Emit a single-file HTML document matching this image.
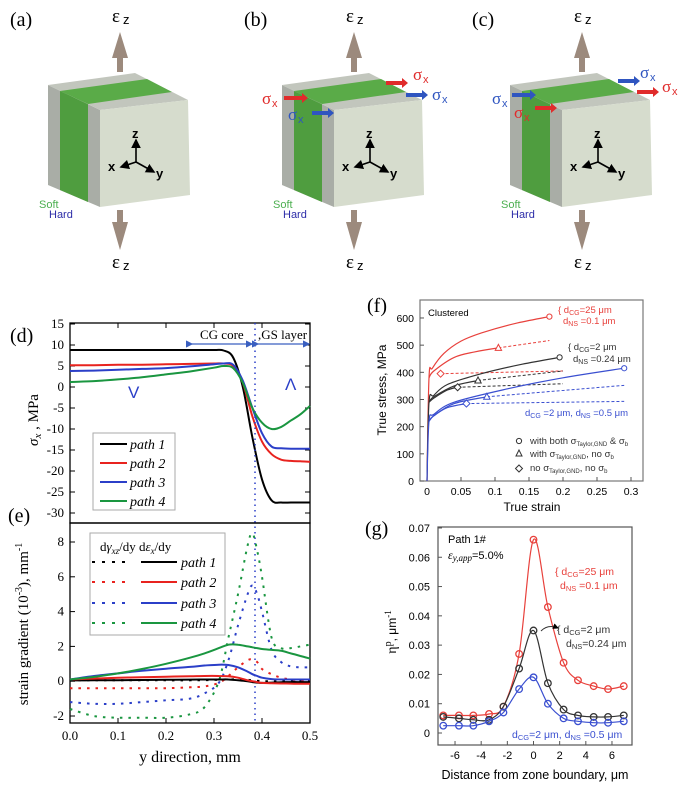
<!DOCTYPE html>
<html><head><meta charset="utf-8"><style>
html,body{margin:0;padding:0;background:#fff;}
svg{display:block;}
.serif{font-family:"Liberation Serif",serif;}
.sans{font-family:"Liberation Sans",sans-serif;}
</style></head><body>
<svg id="fig" width="684" height="785" viewBox="0 0 684 785" xmlns="http://www.w3.org/2000/svg">
<defs>
<marker id="ah" markerWidth="6" markerHeight="6" refX="5" refY="3" orient="auto"><path d="M0,0 L6,3 L0,6 z" fill="#000"/></marker>
<marker id="bh" markerWidth="6" markerHeight="6" refX="5" refY="3" orient="auto"><path d="M0,0 L6,3 L0,6 z" fill="#3a5fc0"/></marker>
</defs>
<g id="cubes"></g>
<g id="pd"></g>
<g id="pe"></g>
<g id="pf"></g>
<g id="pg"></g>
</svg>
<script>
// ---------- data: panel d ----------
const dX = [0,0.05,0.1,0.15,0.2,0.25,0.3,0.32,0.34,0.36,0.38,0.4,0.42,0.44,0.46,0.48,0.5];
const dPath1 = [8.8,8.8,8.8,8.8,8.8,8.8,8.8,8.7,7,0,-12,-22,-27,-27.5,-27.5,-27.5,-27.5];
const dPath2 = [5.2,5.2,5.3,5.3,5.4,5.5,5.6,5.6,5,1,-7,-13,-16,-17.3,-17.6,-17.7,-17.8];
const dPath3 = [3.8,3.9,4.1,4.3,4.5,4.9,5.4,5.6,5.3,1.5,-5,-11,-14.2,-14.6,-14.7,-14.7,-14.7];
const dPath4 = [1.2,1.4,1.8,2.3,3,3.7,4.6,5,4.5,1,-5,-8.5,-10,-9.5,-8,-6.5,-4.5];
const dYTicks = [15,10,5,0,-5,-10,-15,-20,-25,-30];
// ---------- data: panel e ----------
const eX = [0,0.05,0.1,0.15,0.2,0.25,0.28,0.31,0.33,0.35,0.37,0.38,0.39,0.4,0.42,0.44,0.46,0.48,0.5];
const eSolid1 = [0.05,0.05,0.06,0.07,0.08,0.09,0.1,0.1,0.1,0.05,0,-0.05,-0.08,-0.1,-0.08,-0.06,-0.05,-0.05,-0.05];
const eSolid2 = [0.1,0.15,0.2,0.23,0.26,0.28,0.3,0.3,0.28,0.2,0.05,0,-0.05,-0.1,-0.12,-0.13,-0.14,-0.15,-0.15];
const eSolid3 = [0.1,0.3,0.45,0.6,0.72,0.82,0.9,0.95,0.93,0.8,0.55,0.4,0.3,0.2,0.12,0.1,0.1,0.1,0.1];
const eSolid4 = [0.1,0.25,0.45,0.7,1.0,1.35,1.6,1.9,2.1,2.1,2.0,1.95,1.9,1.85,1.8,1.75,1.6,1.45,1.3];
const eDash1 = [0.05,0.05,0.05,0.05,0.05,0.05,0.06,0.08,0.1,0.1,0.08,0.05,0.03,0,0,0,0,0,0];
const eDash2 = [-0.4,-0.4,-0.4,-0.4,-0.4,-0.35,-0.3,-0.1,0.3,0.8,1.2,1.25,1.1,0.7,0.4,0.2,0.1,0.05,0];
const eDash3 = [-1.2,-1.3,-1.3,-1.2,-1.1,-1.0,-0.7,-0.1,1.2,3.2,5,5.5,5,4,1.8,1.1,0.85,0.8,0.8];
const eDash4 = [-1.6,-2.0,-2.1,-2.1,-2.1,-1.9,-1.5,0,2.5,5,7.8,8.5,7.5,6,2.5,1.9,1.9,2.0,2.1];
const eYTicks = [8,6,4,2,0,-2];
const xTicksDE = [0,0.1,0.2,0.3,0.4,0.5];
// ---------- data: panel f ----------
const fRedX = [0,0.003,0.008,0.025,0.05,0.08,0.13,0.18];
const fRedY = [0,380,415,470,515,545,580,605];
const fRedTriX = [0.003,0.01,0.04,0.07,0.105];
const fRedTriY = [380,405,455,475,490];
const fBlkX = [0,0.003,0.01,0.03,0.08,0.14,0.195];
const fBlkY = [0,290,315,355,395,430,455];
const fBlkTriX = [0.003,0.01,0.04,0.075];
const fBlkTriY = [290,310,350,370];
const fBlkDiaX = [0.003,0.01,0.03,0.045];
const fBlkDiaY = [290,305,335,345];
const fBluX = [0,0.003,0.01,0.04,0.12,0.2,0.29];
const fBluY = [0,220,245,290,340,380,415];
const fBluTriX = [0.003,0.01,0.04,0.088];
const fBluTriY = [220,240,285,310];
const fBluDiaX = [0.003,0.01,0.03,0.058];
const fBluDiaY = [220,240,270,285];
const fDashes = [ // [x0,y0,x1,y1,color]
 [0.105,490,0.18,517,'#e8413c'],[0.02,395,0.2,405,'#e8413c'],
 [0.075,370,0.2,405,'#333'],[0.045,345,0.2,358,'#333'],
 [0.088,310,0.29,352,'#3a4fd0'],[0.058,285,0.29,293,'#3a4fd0']];
const fYTicks = [0,100,200,300,400,500,600];
const fXTicks = [0,0.05,0.1,0.15,0.2,0.25,0.3];
const fXLabels = ['0','0.05','0.1','0.15','0.2','0.25','0.3'];
// ---------- data: panel g ----------
const gX = [-6.9,-5.7,-4.6,-3.4,-2.3,-1.1,0,1.1,2.3,3.4,4.6,5.7,6.9];
const gRed = [0.006,0.006,0.006,0.0065,0.009,0.027,0.066,0.043,0.024,0.018,0.016,0.015,0.016];
const gBlk = [0.0055,0.005,0.0045,0.0045,0.009,0.022,0.035,0.017,0.008,0.006,0.0055,0.0055,0.006];
const gBlu = [0.0025,0.0025,0.0025,0.004,0.007,0.015,0.019,0.010,0.005,0.004,0.0035,0.0035,0.004];
const gYTicks = [0,0.01,0.02,0.03,0.04,0.05,0.06,0.07];
const gXTicks = [-6,-4,-2,0,2,4,6];

const NS='http://www.w3.org/2000/svg';
function mk(parent, tag, name, attrs){
  const el=document.createElementNS(NS,tag);
  
  
  for(const k in attrs) el.setAttribute(k,attrs[k]);
  parent.appendChild(el); return el;
}
function txt(parent,name,x,y,s,attrs){const t=mk(parent,'text',name,Object.assign({x:x,y:y},attrs||{}));t.textContent=s;return t;}
function smooth(pts){
  let d='M'+pts[0][0].toFixed(1)+','+pts[0][1].toFixed(1);
  for(let i=0;i<pts.length-1;i++){
    const p0=pts[i-1]||pts[i],p1=pts[i],p2=pts[i+1],p3=pts[i+2]||p2;
    const c1=[p1[0]+(p2[0]-p0[0])/6,p1[1]+(p2[1]-p0[1])/6];
    const c2=[p2[0]-(p3[0]-p1[0])/6,p2[1]-(p3[1]-p1[1])/6];
    d+=' C'+c1[0].toFixed(1)+','+c1[1].toFixed(1)+' '+c2[0].toFixed(1)+','+c2[1].toFixed(1)+' '+p2[0].toFixed(1)+','+p2[1].toFixed(1);
  }
  return d;
}
const $=id=>document.getElementById(id);

// ---------- cubes ----------
(function(){
  const g=$('cubes');
  const offs=[0,234,462], labels=['(a)','(b)','(c)'];
  offs.forEach((o,i)=>{
    const c=mk(g,'g','cube-'+labels[i][1],{transform:'translate('+o+',0)'});
    txt(c,'panel-label',10,26,labels[i],{'class':'serif','font-size':20});
    mk(c,'polygon','cube-left-face',{points:'48,85 100,110 100,207 48,185',fill:'#a9ada6'});
    mk(c,'polygon','green-stripe-side',{points:'60,91 88,104 88,202 60,190',fill:'#4f9d3f'});
    mk(c,'polygon','cube-top-face',{points:'48,85 135,73 188,100 100,110',fill:'#c2c6bd'});
    mk(c,'polygon','green-stripe-top',{points:'60,91 147,79 172,92 88,104',fill:'#5aab48'});
    mk(c,'polygon','cube-front-face',{points:'100,110 188,100 190,195 100,207',fill:'#d6dccd'});
    // ez arrows
    mk(c,'polygon','strain-arrow-up',{points:'117,72 117,58 112,58 120,32 128,58 123,58 123,72',fill:'#9c8a7d'});
    mk(c,'polygon','strain-arrow-down',{points:'117,210 123,210 123,222 128,222 120,250 112,222 117,222',fill:'#9c8a7d'});
    txt(c,'epsilon-z-top',112,22,'ε',{'class':'serif','font-size':19});
    txt(c,'epsilon-z-top-sub',123,24,'z',{'class':'sans','font-size':13});
    txt(c,'epsilon-z-bottom',112,268,'ε',{'class':'serif','font-size':19});
    txt(c,'epsilon-z-bottom-sub',123,270,'z',{'class':'sans','font-size':13});
    // axes triad
    mk(c,'line','z-axis',{x1:136,y1:162,x2:136,y2:140,stroke:'#000','stroke-width':1.6,'marker-end':'url(#ah)'});
    mk(c,'line','x-axis',{x1:136,y1:162,x2:121,y2:167,stroke:'#000','stroke-width':1.6,'marker-end':'url(#ah)'});
    mk(c,'line','y-axis',{x1:136,y1:162,x2:154,y2:172,stroke:'#000','stroke-width':1.6,'marker-end':'url(#ah)'});
    txt(c,'z-label',132,138,'z',{'class':'sans','font-size':13,'font-weight':'bold'});
    txt(c,'x-label',108,171,'x',{'class':'sans','font-size':13,'font-weight':'bold'});
    txt(c,'y-label',156,178,'y',{'class':'sans','font-size':13,'font-weight':'bold'});
    txt(c,'soft-label',39,208,'Soft',{'class':'sans','font-size':11,fill:'#4caf50'});
    txt(c,'hard-label',49,218,'Hard',{'class':'sans','font-size':11,fill:'#2c2ca8'});
  });
  const sig=(x,y,w,col,lx,ly,name)=>{
    mk(g,'polygon',name+'-arrow',{points:(x)+','+(y-2)+' '+(x+w-6)+','+(y-2)+' '+(x+w-6)+','+(y-5)+' '+(x+w)+','+y+' '+(x+w-6)+','+(y+5)+' '+(x+w-6)+','+(y+2)+' '+x+','+(y+2),fill:col});
    txt(g,name+'-label',lx,ly,'σ',{'class':'serif','font-size':17,fill:col});
    txt(g,name+'-sub',lx+10,ly+3,'x',{'class':'sans','font-size':11,fill:col});
  };
  sig(284,98,24,'#e02b2b',262,104,'sigma-b-left-red');
  sig(312,113,22,'#2f55c0',288,120,'sigma-b-left-blue');
  sig(386,83,22,'#e02b2b',413,80,'sigma-b-right-red');
  sig(406,95,22,'#2f55c0',432,100,'sigma-b-right-blue');
  sig(512,95,24,'#2f55c0',492,104,'sigma-c-left-blue');
  sig(535,108,22,'#e02b2b',514,118,'sigma-c-left-red');
  sig(618,81,22,'#2f55c0',640,78,'sigma-c-right-blue');
  sig(637,92,22,'#e02b2b',662,92,'sigma-c-right-red');
})();

// ---------- panel d & e ----------
const X=v=>70+v*480;
const Yd=v=>324+(15-v)*4.2;
const Ye=v=>542+(8-v)*17.4;
const cols=['#000','#e8231f','#2b3fc8','#1a9640'];
(function(){
  const g=$('pd');
  txt(g,'panel-label',10,342,'(d)',{'class':'serif','font-size':20});
  mk(g,'rect','plot-frame',{x:70,y:323,width:240,height:200,fill:'none',stroke:'#000','stroke-width':1.3});
  dYTicks.forEach(v=>{
    mk(g,'line','y-tick',{x1:70,y1:Yd(v),x2:75,y2:Yd(v),stroke:'#000'});
    mk(g,'line','y-tick-right',{x1:310,y1:Yd(v),x2:305,y2:Yd(v),stroke:'#000'});
    txt(g,'y-tick-label',64,Yd(v)+4,String(v),{'class':'serif','font-size':13,'text-anchor':'end'});
  });
  xTicksDE.forEach(v=>{mk(g,'line','x-tick-top',{x1:X(v),y1:323,x2:X(v),y2:328,stroke:'#000'});});
  const t=txt(g,'y-axis-title',0,0,'',{'class':'serif','font-size':15,transform:'translate(38,420) rotate(-90)','text-anchor':'middle'});
  t.innerHTML='<tspan font-style="italic">σ</tspan><tspan font-style="italic" font-size="11" dy="3">x</tspan><tspan dy="-3"> ,  MPa</tspan>';
  [dPath1,dPath2,dPath3,dPath4].forEach((s,i)=>{
    mk(g,'path','sigma-path-'+(i+1),{d:smooth(dX.map((x,j)=>[X(x),Yd(s[j])])),fill:'none',stroke:cols[i],'stroke-width':2});
  });
  mk(g,'line','zone-boundary',{x1:255,y1:323,x2:255,y2:723,stroke:'#2b3fc8','stroke-width':1.5,'stroke-dasharray':'1.5,4'});
  mk(g,'line','cg-core-arrow',{x1:192,y1:344,x2:252,y2:344,stroke:'#3a5fc0','stroke-width':1.2,'marker-end':'url(#bh)','marker-start':'url(#bh)'});
  mk(g,'line','gs-layer-arrow',{x1:258,y1:344,x2:309,y2:344,stroke:'#3a5fc0','stroke-width':1.2,'marker-end':'url(#bh)','marker-start':'url(#bh)'});
  g.lastChild.previousSibling.setAttribute('marker-start','url(#bh)');
  txt(g,'cg-core-label',200,339,'CG core',{'class':'serif','font-size':13});
  txt(g,'gs-layer-label',258,339,',GS layer',{'class':'serif','font-size':13});
  txt(g,'less-than-sign',128,398,'V',{'class':'sans','font-size':17,fill:'#2b3fc8'});
  txt(g,'greater-than-sign',285,390,'Λ',{'class':'sans','font-size':17,fill:'#2b3fc8'});
  const lg=mk(g,'g','legend',{});
  mk(lg,'rect','legend-box',{x:93,y:433,width:82,height:77,fill:'#fff',stroke:'#aaa'});
  [444,463,482,501].forEach((y,i)=>{
    mk(lg,'line','legend-line',{x1:100,y1:y,x2:127,y2:y,stroke:cols[i],'stroke-width':2});
    txt(lg,'legend-entry',130,y+5,'path '+(i+1),{'class':'serif','font-size':14,'font-style':'italic'});
  });
})();
(function(){
  const g=$('pe');
  txt(g,'panel-label',8,522,'(e)',{'class':'serif','font-size':20});
  mk(g,'rect','plot-frame',{x:70,y:523,width:240,height:200,fill:'none',stroke:'#000','stroke-width':1.3});
  eYTicks.forEach(v=>{
    mk(g,'line','y-tick',{x1:70,y1:Ye(v),x2:75,y2:Ye(v),stroke:'#000'});
    txt(g,'y-tick-label',64,Ye(v)+4,String(v),{'class':'serif','font-size':13,'text-anchor':'end'});
  });
  xTicksDE.forEach(v=>{
    mk(g,'line','x-tick',{x1:X(v),y1:723,x2:X(v),y2:718,stroke:'#000'});
    txt(g,'x-tick-label',X(v),740,v.toFixed(1),{'class':'serif','font-size':13,'text-anchor':'middle'});
  });
  txt(g,'x-axis-title',190,762,'y direction,  mm',{'class':'serif','font-size':16,'text-anchor':'middle'});
  const t=txt(g,'y-axis-title',0,0,'',{'class':'serif','font-size':15,transform:'translate(28,624) rotate(-90)','text-anchor':'middle'});
  t.innerHTML='strain gradient (10<tspan font-size="10" dy="-6">-3</tspan><tspan dy="6">),  mm</tspan><tspan font-size="10" dy="-6">-1</tspan>';
  [eDash1,eDash2,eDash3,eDash4].forEach((s,i)=>{
    mk(g,'path','dgamma-path-'+(i+1),{d:smooth(eX.map((x,j)=>[X(x),Ye(s[j])])),fill:'none',stroke:cols[i],'stroke-width':2,'stroke-dasharray':'2.5,6'});
  });
  [eSolid1,eSolid2,eSolid3,eSolid4].forEach((s,i)=>{
    mk(g,'path','deps-path-'+(i+1),{d:smooth(eX.map((x,j)=>[X(x),Ye(s[j])])),fill:'none',stroke:cols[i],'stroke-width':2});
  });
  const lg=mk(g,'g','legend',{});
  mk(lg,'rect','legend-box',{x:90,y:533,width:135,height:102,fill:'#fff',stroke:'#aaa'});
  const h=txt(lg,'legend-header',100,551,'',{'class':'serif','font-size':13});
  h.innerHTML='d<tspan font-style="italic">γ</tspan><tspan font-size="9" font-style="italic" dy="3">xz</tspan><tspan dy="-3">/dy  d</tspan><tspan font-style="italic">ε</tspan><tspan font-size="9" font-style="italic" dy="3">x</tspan><tspan dy="-3">/dy</tspan>';
  [562,582,603,623].forEach((y,i)=>{
    mk(lg,'line','legend-dash',{x1:92,y1:y,x2:128,y2:y,stroke:cols[i],'stroke-width':2,'stroke-dasharray':'3,7'});
    mk(lg,'line','legend-solid',{x1:141,y1:y,x2:177,y2:y,stroke:cols[i],'stroke-width':2});
    txt(lg,'legend-entry',181,y+5,'path '+(i+1),{'class':'serif','font-size':14,'font-style':'italic'});
  });
})();

// ---------- panel f ----------
(function(){
  const g=$('pf');
  const Xf=v=>427+v*680, Yf=v=>481-v*0.2717;
  txt(g,'panel-label',367,312,'(f)',{'class':'serif','font-size':20});
  mk(g,'rect','plot-frame',{x:420,y:300,width:223,height:181,fill:'none',stroke:'#777','stroke-width':1.2});
  fYTicks.forEach(v=>{
    mk(g,'line','y-tick',{x1:420,y1:Yf(v),x2:424,y2:Yf(v),stroke:'#555'});
    txt(g,'y-tick-label',414,Yf(v)+4,String(v),{'class':'sans','font-size':10.5,'text-anchor':'end'});
  });
  fXTicks.forEach((v,i)=>{
    mk(g,'line','x-tick',{x1:Xf(v),y1:481,x2:Xf(v),y2:477,stroke:'#555'});
    txt(g,'x-tick-label',Xf(v),495,fXLabels[i],{'class':'sans','font-size':10.5,'text-anchor':'middle'});
  });
  txt(g,'x-axis-title',532,511,'True strain',{'class':'sans','font-size':12,'text-anchor':'middle'});
  txt(g,'y-axis-title',0,0,'True stress, MPa',{'class':'sans','font-size':12,'text-anchor':'middle',transform:'translate(386,390) rotate(-90)'});
  txt(g,'clustered-label',428,316,'Clustered',{'class':'sans','font-size':9.5});
  fDashes.forEach(d=>{
    mk(g,'line','no-backstress-extension',{x1:Xf(d[0]),y1:Yf(d[1]),x2:Xf(d[2]),y2:Yf(d[3]),stroke:d[4],'stroke-width':1,'stroke-dasharray':'3,2'});
  });
  const cur=(xs,ys,col,name)=>mk(g,'path',name,{d:smooth(xs.map((x,j)=>[Xf(x),Yf(ys[j])])),fill:'none',stroke:col,'stroke-width':1.2});
  cur(fRedX,fRedY,'#e8413c','red-full-curve');
  cur(fRedTriX,fRedTriY,'#e8413c','red-tri-curve');
  cur(fBlkX,fBlkY,'#333','black-full-curve');
  cur(fBlkTriX,fBlkTriY,'#333','black-tri-curve');
  cur(fBlkDiaX,fBlkDiaY,'#333','black-dia-curve');
  cur(fBluX,fBluY,'#3a4fd0','blue-full-curve');
  cur(fBluTriX,fBluTriY,'#3a4fd0','blue-tri-curve');
  cur(fBluDiaX,fBluDiaY,'#3a4fd0','blue-dia-curve');
  const circ=(x,y,c)=>mk(g,'circle','circle-marker',{cx:Xf(x),cy:Yf(y),r:2.6,fill:'#fff',stroke:c});
  const tri=(x,y,c)=>{const a=Xf(x),b=Yf(y);mk(g,'polygon','triangle-marker',{points:a+','+(b-3.5)+' '+(a-3.2)+','+(b+2.5)+' '+(a+3.2)+','+(b+2.5),fill:'#fff',stroke:c});};
  const dia=(x,y,c)=>{const a=Xf(x),b=Yf(y);mk(g,'polygon','diamond-marker',{points:a+','+(b-3.5)+' '+(a+3.5)+','+b+' '+a+','+(b+3.5)+' '+(a-3.5)+','+b,fill:'#fff',stroke:c});};
  circ(fRedX[fRedX.length-1],fRedY[fRedY.length-1],'#e8413c');
  tri(fRedTriX[fRedTriX.length-1],fRedTriY[fRedTriY.length-1],'#e8413c');
  dia(fDashes[1][0],fDashes[1][1],'#e8413c');
  circ(fBlkX[fBlkX.length-1],fBlkY[fBlkY.length-1],'#333');
  tri(fBlkTriX[fBlkTriX.length-1],fBlkTriY[fBlkTriY.length-1],'#333');
  dia(fBlkDiaX[fBlkDiaX.length-1],fBlkDiaY[fBlkDiaY.length-1],'#333');
  circ(fBluX[fBluX.length-1],fBluY[fBluY.length-1],'#3a4fd0');
  tri(fBluTriX[fBluTriX.length-1],fBluTriY[fBluTriY.length-1],'#3a4fd0');
  dia(fBluDiaX[fBluDiaX.length-1],fBluDiaY[fBluDiaY.length-1],'#3a4fd0');
  const ann=(x,y,col,html,name)=>{const t=txt(g,name,x,y,'',{'class':'sans','font-size':9.5,fill:col});t.innerHTML=html;};
  ann(558,313,'#e8413c','{ d<tspan font-size="7" dy="2">CG</tspan><tspan dy="-2">=25 μm</tspan>','red-dcg-label');
  ann(563,324,'#e8413c','d<tspan font-size="7" dy="2">NS</tspan><tspan dy="-2"> =0.1 μm</tspan>','red-dns-label');
  ann(568,350,'#333','{ d<tspan font-size="7" dy="2">CG</tspan><tspan dy="-2">=2 μm</tspan>','black-dcg-label');
  ann(573,362,'#333','d<tspan font-size="7" dy="2">NS</tspan><tspan dy="-2"> =0.24 μm</tspan>','black-dns-label');
  ann(525,416,'#3a4fd0','d<tspan font-size="7" dy="2">CG</tspan><tspan dy="-2"> =2 μm, d</tspan><tspan font-size="7" dy="2">NS</tspan><tspan dy="-2"> =0.5 μm</tspan>','blue-label');
  mk(g,'circle','legend-circle',{cx:519,cy:441,r:2.6,fill:'#fff',stroke:'#333'});
  mk(g,'polygon','legend-triangle',{points:'519,450 516,456 522,456',fill:'#fff',stroke:'#333'});
  mk(g,'polygon','legend-diamond',{points:'519,465 522.5,468.5 519,472 515.5,468.5',fill:'#fff',stroke:'#333'});
  ann(530,444,'#333','with both σ<tspan font-size="6" dy="2">Taylor,GND</tspan><tspan dy="-2"> &amp; σ</tspan><tspan font-size="6" dy="2">b</tspan>','legend-entry-both');
  ann(530,457,'#333','with σ<tspan font-size="6" dy="2">Taylor,GND</tspan><tspan dy="-2">, no σ</tspan><tspan font-size="6" dy="2">b</tspan>','legend-entry-taylor');
  ann(530,471,'#333','no σ<tspan font-size="6" dy="2">Taylor,GND</tspan><tspan dy="-2">, no σ</tspan><tspan font-size="6" dy="2">b</tspan>','legend-entry-none');
})();

// ---------- panel g ----------
(function(){
  const g=$('pg');
  const Xg=v=>533.5+v*13.08, Yg=v=>733-v*2929;
  txt(g,'panel-label',365,535,'(g)',{'class':'serif','font-size':20});
  mk(g,'rect','plot-frame',{x:438,y:527,width:194,height:218,fill:'none',stroke:'#555','stroke-width':1.2});
  gYTicks.forEach(v=>{
    mk(g,'line','y-tick',{x1:438,y1:Yg(v),x2:442,y2:Yg(v),stroke:'#555'});
    txt(g,'y-tick-label',430,Yg(v)+4,v===0?'0':v.toFixed(2),{'class':'sans','font-size':11,'text-anchor':'end'});
  });
  gXTicks.forEach(v=>{
    mk(g,'line','x-tick',{x1:Xg(v),y1:745,x2:Xg(v),y2:741,stroke:'#555'});
    txt(g,'x-tick-label',Xg(v),759,String(v),{'class':'sans','font-size':11,'text-anchor':'middle'});
  });
  txt(g,'x-axis-title',535,779,'Distance from zone boundary, μm',{'class':'sans','font-size':12.5,'text-anchor':'middle'});
  const yt=txt(g,'y-axis-title',0,0,'',{'class':'serif','font-size':14,'text-anchor':'middle',transform:'translate(396,632) rotate(-90)'});
  yt.innerHTML='η<tspan font-size="10" dy="-5">p</tspan><tspan dy="5" class="sans" font-size="12">, μm</tspan><tspan font-size="9" dy="-5">-1</tspan>';
  txt(g,'path-label',448,543,'Path 1#',{'class':'sans','font-size':11});
  const ea=txt(g,'strain-label',448,559,'',{'class':'serif','font-size':12});
  ea.innerHTML='<tspan font-style="italic">ε</tspan><tspan font-style="italic" font-size="9" dy="2">y,app</tspan><tspan dy="-2" class="sans" font-size="11">=5.0%</tspan>';
  [[gRed,'#e8413c','red'],[gBlk,'#333','black'],[gBlu,'#3a4fd0','blue']].forEach(([s,c,n])=>{
    mk(g,'path',n+'-fit-line',{d:smooth(gX.map((x,j)=>[Xg(x),Yg(s[j])])),fill:'none',stroke:c,'stroke-width':1.2});
    gX.forEach((x,j)=>{mk(g,'circle',n+'-point',{cx:Xg(x),cy:Yg(s[j]),r:3.3,fill:'none',stroke:c,'stroke-width':1.3});});
  });
  const ann=(x,y,col,html,name)=>{const t=txt(g,name,x,y,'',{'class':'sans','font-size':10.5,fill:col});t.innerHTML=html;};
  ann(555,575,'#e8413c','{ d<tspan font-size="7.5" dy="2">CG</tspan><tspan dy="-2">=25 μm</tspan>','red-dcg-label');
  ann(560,589,'#e8413c','d<tspan font-size="7.5" dy="2">NS</tspan><tspan dy="-2"> =0.1 μm</tspan>','red-dns-label');
  ann(557,633,'#333','{ d<tspan font-size="7.5" dy="2">CG</tspan><tspan dy="-2">=2 μm</tspan>','black-dcg-label');
  ann(566,647,'#333','d<tspan font-size="7.5" dy="2">NS</tspan><tspan dy="-2">=0.24 μm</tspan>','black-dns-label');
  mk(g,'path','black-pointer',{d:'M541,631 Q548,624 558,628',fill:'none',stroke:'#333','stroke-width':1,'marker-end':'url(#ah)'});
  ann(512,738,'#3a4fd0','d<tspan font-size="7.5" dy="2">CG</tspan><tspan dy="-2">=2 μm, d</tspan><tspan font-size="7.5" dy="2">NS</tspan><tspan dy="-2"> =0.5 μm</tspan>','blue-label');
})();
</script>
</body></html>
